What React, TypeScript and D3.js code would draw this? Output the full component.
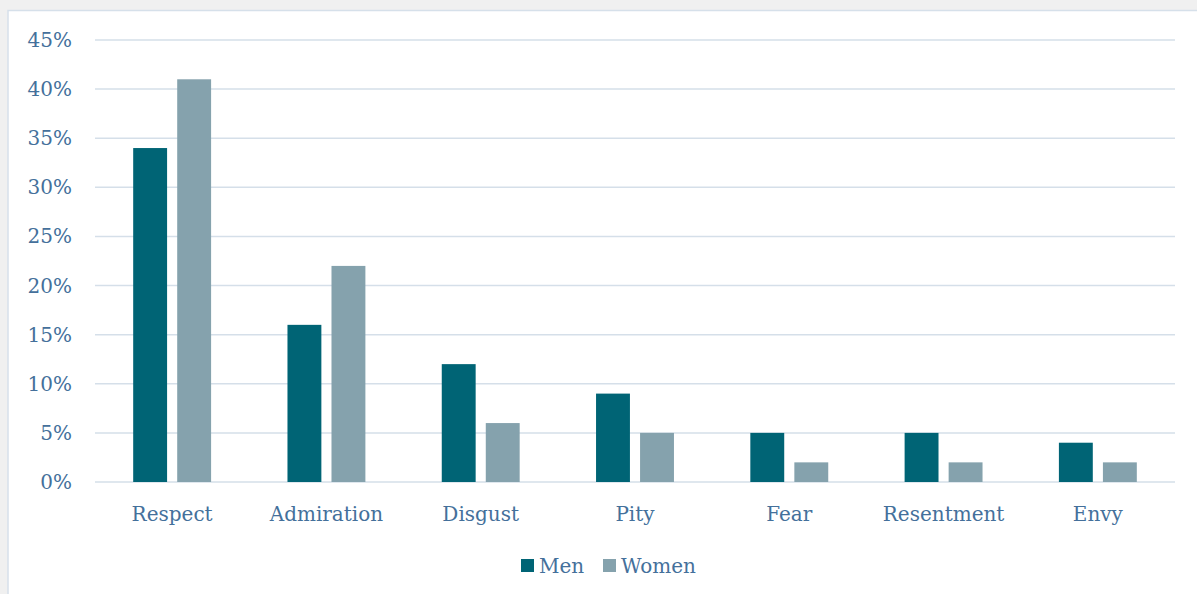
import { useEffect, useRef } from 'react';
import * as d3 from 'd3';

// values (percent)
const categories = ['Respect', 'Admiration', 'Disgust', 'Pity', 'Fear', 'Resentment', 'Envy'];
const seriesNames = ['Men', 'Women'];
const menValues = [34, 16, 12, 9, 5, 5, 4];
const womenValues = [41, 22, 6, 5, 2, 2, 2];
const yTicks = [0, 5, 10, 15, 20, 25, 30, 35, 40, 45];
const colors = ['#006475', '#85a2ad'];

const W = 1197;
const H = 594;
const FONT = 'DejaVu Serif';
const TEXT_COLOR = '#44709b';

const App = () => {
  const svgRef = useRef<SVGSVGElement>(null);

  useEffect(() => {
    if (!svgRef.current) return;
    const svg = d3.select(svgRef.current);
    svg.selectAll('*').remove();

    // page background and chart panel
    svg.append('rect').attr('width', W).attr('height', H).attr('fill', '#f0f0f0');
    svg
      .append('rect')
      .attr('x', 8)
      .attr('y', 10.5)
      .attr('width', W + 20)
      .attr('height', H + 20)
      .attr('fill', '#ffffff')
      .attr('stroke', '#d6e0ea')
      .attr('stroke-width', 1.5);

    const left = 95;
    const right = 1175;
    const top = 40;
    const bottom = 482;

    const y = d3.scaleLinear().domain([0, 45]).range([bottom, top]);
    const x0 = d3
      .scaleBand()
      .domain(categories)
      .range([left, right])
      .paddingInner(0.495)
      .paddingOuter(0.2475);
    const x1 = d3
      .scaleBand()
      .domain(seriesNames)
      .range([0, x0.bandwidth()])
      .paddingInner(0.23)
      .paddingOuter(0);

    // gridlines
    svg
      .selectAll('.grid')
      .data(yTicks)
      .enter()
      .append('line')
      .attr('x1', left)
      .attr('x2', right)
      .attr('y1', (d) => y(d))
      .attr('y2', (d) => y(d))
      .attr('stroke', '#d5dfe9')
      .attr('stroke-width', 1.5);

    // y tick labels
    svg
      .selectAll('.ytick')
      .data(yTicks)
      .enter()
      .append('text')
      .attr('x', 72)
      .attr('y', (d) => y(d) + 7)
      .attr('text-anchor', 'end')
      .attr('font-family', FONT)
      .attr('font-size', 20)
      .attr('fill', TEXT_COLOR)
      .text((d) => `${d}%`);

    // bars
    const series = [menValues, womenValues];
    series.forEach((vals, si) => {
      svg
        .selectAll(`.bar-${si}`)
        .data(vals)
        .enter()
        .append('rect')
        .attr('x', (_, i) => x0(categories[i])! + x1(seriesNames[si])!)
        .attr('y', (d) => y(d))
        .attr('width', x1.bandwidth())
        .attr('height', (d) => bottom - y(d))
        .attr('fill', colors[si]);
    });

    // category labels
    svg
      .selectAll('.xtick')
      .data(categories)
      .enter()
      .append('text')
      .attr('x', (d) => x0(d)! + x0.bandwidth() / 2)
      .attr('y', 521)
      .attr('text-anchor', 'middle')
      .attr('font-family', FONT)
      .attr('font-size', 20)
      .attr('fill', TEXT_COLOR)
      .text((d) => d);

    // legend
    const legendX = [521, 603];
    seriesNames.forEach((name, i) => {
      svg
        .append('rect')
        .attr('x', legendX[i])
        .attr('y', 559)
        .attr('width', 13)
        .attr('height', 13)
        .attr('fill', colors[i]);
      svg
        .append('text')
        .attr('x', legendX[i] + 18)
        .attr('y', 573)
        .attr('font-family', FONT)
        .attr('font-size', 20)
        .attr('fill', TEXT_COLOR)
        .text(name);
    });
  }, []);

  return (
    <svg
      ref={svgRef}
      width={W}
      height={H}
      style={{ position: 'absolute', left: 0, top: 0, display: 'block' }}
    ></svg>
  );
};

export default App;
